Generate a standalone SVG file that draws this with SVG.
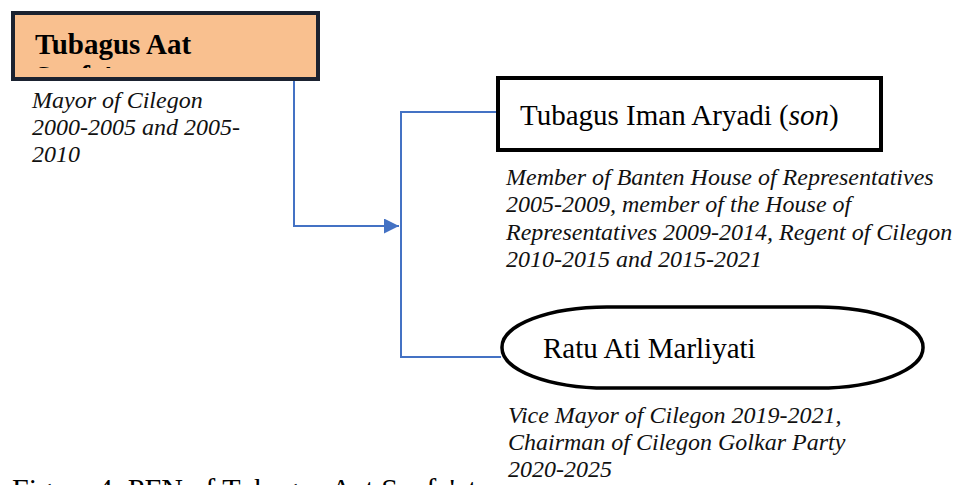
<svg xmlns="http://www.w3.org/2000/svg" width="954" height="485" viewBox="0 0 954 485">
<style>
.node{font-family:"Liberation Serif","Times New Roman",serif;fill:#000}
.t29{font-size:29px}
.desc{font-family:"Liberation Serif","Times New Roman",serif;font-size:24px;font-style:italic;fill:#111}
.conn{fill:none;stroke:#4472c4;stroke-width:2}
</style>
<defs>
<marker id="arr" viewBox="0 0 10 10" refX="10" refY="5" markerWidth="7.5" markerHeight="7.5" markerUnits="strokeWidth" orient="auto">
<path d="M0,0 L10,5 L0,10 z" fill="#4472c4"/>
</marker>
<clipPath id="clipAat"><rect x="15" y="15" width="301" height="53"/></clipPath>
</defs>
<rect width="954" height="485" fill="#fff"/>
<g id="connectors">
<path class="conn" d="M294,81 V226 H399" marker-end="url(#arr)"/>
<path class="conn" d="M497,112 H401 V357 H501"/>
</g>
<g id="node-aat">
<rect x="13" y="13" width="305" height="66" fill="#f9c08f" stroke="#1b2230" stroke-width="4"/>
<g clip-path="url(#clipAat)">
<text class="node t29" x="35" y="54" font-weight="bold">Tubagus Aat</text>
<text class="node t29" x="35" y="86" font-weight="bold">Syafa'at</text>
</g>
<text class="desc"><tspan x="32" y="108">Mayor of Cilegon</tspan><tspan x="32" y="135">2000-2005 and 2005-</tspan><tspan x="32" y="162">2010</tspan></text>
</g>
<g id="node-iman">
<rect x="498" y="78" width="383" height="72" fill="#fff" stroke="#000" stroke-width="4"/>
<text class="node t29" x="520" y="125">Tubagus Iman Aryadi (<tspan font-style="italic">son</tspan>)</text>
<text class="desc"><tspan x="506" y="185">Member of Banten House of Representatives</tspan><tspan x="506" y="212">2005-2009, member of the House of</tspan><tspan x="506" y="240">Representatives 2009-2014, Regent of Cilegon</tspan><tspan x="506" y="267">2010-2015 and 2015-2021</tspan></text>
</g>
<g id="node-ratu">
<rect x="502" y="307" width="421" height="81" rx="105" ry="40" fill="#fff" stroke="#000" stroke-width="3.5"/>
<text class="node t29" x="543" y="358">Ratu Ati Marliyati</text>
<text class="desc"><tspan x="508" y="423">Vice Mayor of Cilegon 2019-2021,</tspan><tspan x="508" y="450">Chairman of Cilegon Golkar Party</tspan><tspan x="508" y="477">2020-2025</tspan></text>
</g>
<text class="node" x="12" y="499" font-size="30">Figure 4. PFN of Tubagus Aat Syafa'at</text>
</svg>
